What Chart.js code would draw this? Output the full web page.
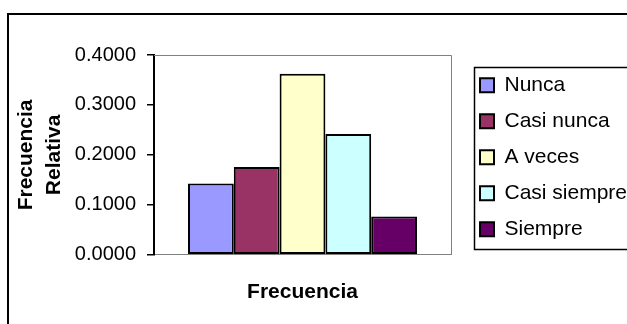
<!DOCTYPE html>
<html lang="es">
<head>
    <meta charset="UTF-8">
    <title>Frecuencia Relativa</title>
    <script src="https://cdn.jsdelivr.net/npm/chart.js"></script>
    <style>
        html, body { margin: 0; padding: 0; overflow: hidden; background: #fff; }
    </style>
</head>
<body>
    <canvas id="freq-chart" width="635" height="324"></canvas>

    <script>
        // data
        const categories = [''];
        const seriesNames = ['Nunca', 'Casi nunca', 'A veces', 'Casi siempre', 'Siempre'];
        const relFreq = [0.1429, 0.1758, 0.3626, 0.2418, 0.0769];
        const yMin = 0, yMax = 0.4, yStep = 0.1;

        const barColors = ['#9999FF', '#993366', '#FFFFCC', '#CCFFFF', '#660066'];
        const FONT = '"Liberation Sans", Arial, sans-serif';

        // plot area frame (gray) + outer chart border + legend frame
        const framePlugin = {
            id: 'frames',
            beforeDatasetsDraw(chart) {
                const {ctx, chartArea: a} = chart;
                ctx.save();
                ctx.strokeStyle = '#808080';
                ctx.lineWidth = 1;
                ctx.beginPath();
                ctx.moveTo(a.left, a.top + 0.5);
                ctx.lineTo(a.right + 0.5, a.top + 0.5);
                ctx.lineTo(a.right + 0.5, a.bottom);
                ctx.stroke();
                ctx.restore();
            },
            afterDraw(chart) {
                const ctx = chart.ctx;
                ctx.save();
                ctx.strokeStyle = '#000';
                ctx.lineWidth = 2;
                ctx.strokeRect(8, 14, chart.width + 20, chart.height + 20);

                const boxes = chart.legend.legendHitBoxes;
                if (boxes && boxes.length) {
                    const first = boxes[0], last = boxes[boxes.length - 1];
                    const top = Math.round(first.top - 8) + 0.5;
                    const bottom = Math.round(last.top + last.height + 9) + 0.5;
                    const left = Math.round(first.left - 6) + 0.5;
                    ctx.lineWidth = 1.5;
                    ctx.strokeRect(left, top, chart.width + 20, bottom - top);
                }
                ctx.restore();
            }
        };

        const ctx = document.getElementById('freq-chart').getContext('2d');
        new Chart(ctx, {
            type: 'bar',
            data: {
                labels: categories,
                datasets: seriesNames.map((name, i) => ({
                    label: name,
                    data: [relFreq[i]],
                    backgroundColor: barColors[i],
                    borderColor: '#000',
                    borderWidth: 2,
                    borderSkipped: false,
                    categoryPercentage: 0.771,
                    barPercentage: 1.0
                }))
            },
            options: {
                responsive: false,
                animation: false,
                devicePixelRatio: 1,
                layout: { padding: { left: 10, top: 55, right: 0, bottom: 19 } },
                plugins: {
                    tooltip: { enabled: false },
                    legend: {
                        position: 'right',
                        align: 'end',
                        fullSize: false,
                        maxWidth: 170,
                        labels: {
                            boxWidth: 14,
                            boxHeight: 14,
                            padding: 15,
                            color: '#000',
                            font: { family: FONT, size: 21 }
                        }
                    }
                },
                scales: {
                    x: {
                        grid: { display: false, drawTicks: false, tickLength: 0 },
                        border: { color: '#808080', width: 1 },
                        ticks: { display: false },
                        title: {
                            display: true,
                            text: 'Frecuencia',
                            color: '#000',
                            font: { family: FONT, size: 21, weight: 'bold' },
                            padding: { top: 25, bottom: 0 }
                        }
                    },
                    y: {
                        min: yMin,
                        max: yMax,
                        afterFit: (scale) => { scale.width = 144; },
                        grid: { drawOnChartArea: false, drawTicks: true, tickLength: 7, color: '#000', lineWidth: 1.5 },
                        border: { color: '#000', width: 2 },
                        ticks: {
                            stepSize: yStep,
                            padding: 11,
                            color: '#000',
                            font: { family: FONT, size: 20 },
                            callback: (v) => v.toFixed(4)
                        },
                        title: {
                            display: true,
                            text: ['Frecuencia', 'Relativa'],
                            color: '#000',
                            font: { family: FONT, size: 21, weight: 'bold', lineHeight: 1.35 },
                            padding: { top: 2, bottom: 0 }
                        }
                    },
                    gap: {
                        type: 'linear',
                        position: 'right',
                        afterFit: (scale) => { scale.width = 14; },
                        grid: { display: false, drawTicks: false },
                        border: { display: false },
                        ticks: { display: false }
                    }
                }
            },
            plugins: [framePlugin]
        });
    </script>
</body>
</html>
